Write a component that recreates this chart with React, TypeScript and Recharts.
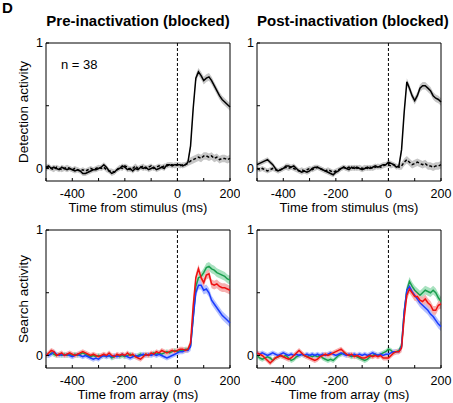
import React from 'react'
import { ComposedChart, Line, Area, XAxis, YAxis, ReferenceLine, ReferenceArea, Label } from 'recharts'

// time axis, ms (10 ms bins)
const timeMs = [
  -500, -490, -480, -470, -460, -450, -440, -430, -420, -410,
  -400, -390, -380, -370, -360, -350, -340, -330, -320, -310,
  -300, -290, -280, -270, -260, -250, -240, -230, -220, -210,
  -200, -190, -180, -170, -160, -150, -140, -130, -120, -110,
  -100, -90, -80, -70, -60, -50, -40, -30, -20, -10,
  0, 10, 20, 30, 40, 50, 60, 70, 80, 90,
  100, 110, 120, 130, 140, 150, 160, 170, 180, 190, 200,
]

const xTicks = [-500, -400, -300, -200, -100, 0, 100, 200]
const xTickLabels = [-400, -200, 0, 200]
const yTicks = [0, 0.5, 1]
const yTickLabels = [0, 1]

// detection activity, pre-inactivation
const detPreSolid = [
  0.01, 0.02, 0.0, 0.01, 0.0, -0.01, 0.01, 0.0, -0.01, 0.0,
  -0.01, -0.02, -0.01, -0.02, -0.04, -0.04, -0.03, -0.02, -0.01, -0.01,
  0.0, 0.01, 0.03, 0.01, -0.02, -0.04, -0.03, -0.01, 0.0, 0.02,
  0.01, -0.01, 0.0, -0.02, 0.0, -0.01, 0.01, 0.0, 0.01, -0.01,
  0.0, 0.01, -0.01, 0.0, 0.01, 0.0, 0.03, 0.03, 0.02, 0.03,
  0.03, 0.03, 0.02, 0.03, 0.05, 0.18, 0.48, 0.72, 0.77, 0.74,
  0.7, 0.72, 0.73, 0.7, 0.66, 0.62, 0.58, 0.55, 0.53, 0.51, 0.49,
]
const detPreDashed = [
  0.0, 0.01, 0.0, -0.01, 0.01, 0.0, -0.01, 0.0, 0.01, 0.0,
  -0.01, 0.0, -0.01, -0.02, -0.01, -0.02, -0.01, 0.0, -0.01, 0.0,
  0.01, 0.0, 0.01, -0.01, -0.02, -0.02, -0.03, -0.01, 0.01, 0.0,
  0.02, 0.01, -0.01, 0.0, 0.02, 0.0, 0.01, 0.02, 0.0, 0.01,
  0.02, 0.0, 0.01, 0.02, 0.01, 0.02, 0.02, 0.03, 0.03, 0.02,
  0.03, 0.02, 0.03, 0.03, 0.04, 0.06, 0.07, 0.08, 0.09, 0.08,
  0.1, 0.1, 0.09, 0.1, 0.08, 0.09, 0.07, 0.08, 0.08, 0.07, 0.08,
]

// detection activity, post-inactivation
const detPostSolid = [
  0.03, 0.04, 0.05, 0.06, 0.07, 0.05, 0.03, 0.0, -0.02, -0.01,
  0.0, 0.02, 0.02, 0.01, 0.02, 0.0, -0.02, -0.03, -0.02, -0.03,
  -0.02, 0.0, 0.01, 0.01, 0.0, -0.01, -0.02, -0.03, -0.04, -0.05,
  -0.03, -0.02, 0.0, 0.01, 0.0, -0.01, 0.01, 0.0, 0.01, 0.0,
  -0.01, 0.0, 0.01, 0.0, 0.01, 0.02, 0.01, 0.02, 0.03, 0.03,
  0.05, 0.04, 0.03, 0.01, 0.02, 0.15, 0.45, 0.69, 0.64, 0.58,
  0.54, 0.58, 0.64, 0.66, 0.66, 0.64, 0.62, 0.58, 0.56, 0.55, 0.53,
]
const detPostDashed = [
  0.0, -0.01, 0.0, -0.01, -0.02, -0.01, 0.0, -0.01, -0.02, -0.01,
  0.0, 0.01, 0.0, 0.01, 0.0, -0.01, -0.02, -0.01, -0.02, -0.01,
  0.0, -0.01, 0.0, 0.01, 0.0, -0.01, -0.02, -0.01, -0.02, -0.03,
  -0.02, -0.01, 0.0, 0.01, 0.0, 0.01, 0.0, 0.01, 0.0, 0.01,
  0.0, 0.01, 0.0, 0.01, 0.0, 0.01, 0.02, 0.01, 0.02, 0.03,
  0.03, 0.02, 0.03, 0.02, 0.01, 0.02, 0.05, 0.07, 0.05, 0.03,
  0.04, 0.05, 0.04, 0.03, 0.04, 0.02, 0.02, 0.01, 0.02, 0.02, 0.03,
]

// search activity, pre-inactivation
const searchPreGreen = [
  0.01, 0.0, 0.02, 0.01, 0.0, 0.01, 0.0, 0.01, 0.0, 0.01,
  0.0, 0.01, 0.0, 0.01, 0.02, 0.01, 0.0, -0.01, 0.0, -0.01,
  0.0, -0.01, 0.0, -0.01, 0.0, -0.02, -0.01, 0.0, -0.01, 0.0,
  -0.01, 0.0, 0.01, 0.0, -0.01, 0.0, 0.01, 0.0, 0.01, 0.0,
  0.01, 0.02, 0.01, 0.02, 0.01, 0.02, 0.03, 0.02, 0.03, 0.04,
  0.03, 0.04, 0.04, 0.05, 0.05, 0.08, 0.3, 0.55, 0.62, 0.63,
  0.66, 0.7, 0.71, 0.69, 0.68, 0.66, 0.65, 0.64, 0.63, 0.61, 0.6,
]
const searchPreRed = [
  0.0, 0.02, 0.04, 0.03, 0.0, 0.01, 0.02, 0.0, 0.01, 0.02,
  0.01, 0.0, 0.01, 0.02, 0.03, 0.02, 0.01, 0.0, 0.01, 0.0,
  -0.01, 0.0, 0.01, 0.0, 0.02, 0.0, -0.01, 0.01, 0.0, 0.01,
  0.0, 0.02, 0.0, 0.01, -0.01, -0.02, -0.03, -0.01, 0.01, 0.0,
  0.02, 0.01, 0.03, 0.02, 0.04, 0.03, 0.02, 0.03, 0.04, 0.03,
  0.04, 0.05, 0.05, 0.04, 0.05, 0.1, 0.4, 0.62, 0.69, 0.62,
  0.58, 0.64, 0.65, 0.57, 0.56, 0.57, 0.55, 0.54, 0.54, 0.53, 0.52,
]
const searchPreBlue = [
  0.01, 0.0, 0.01, 0.03, 0.01, 0.0, 0.01, 0.0, 0.01, 0.0,
  -0.01, 0.0, 0.01, 0.0, -0.01, 0.0, -0.01, -0.02, -0.03, -0.02,
  -0.03, -0.01, 0.0, -0.01, 0.0, -0.01, 0.0, -0.01, 0.0, 0.01,
  0.0, -0.01, -0.02, -0.01, 0.0, -0.01, 0.0, 0.01, 0.0, 0.01,
  0.0, 0.01, 0.0, 0.01, 0.0, -0.01, -0.02, -0.01, 0.0, 0.01,
  0.02, 0.03, 0.03, 0.04, 0.04, 0.07, 0.3, 0.5, 0.56, 0.56,
  0.52, 0.53, 0.5, 0.44, 0.41, 0.38, 0.35, 0.32, 0.3, 0.28, 0.26,
]

// search activity, post-inactivation
const searchPostGreen = [
  0.0, -0.02, -0.03, -0.02, -0.01, -0.02, -0.04, -0.02, -0.01, 0.0,
  -0.01, 0.0, -0.02, -0.04, -0.03, -0.01, 0.0, 0.01, 0.0, -0.01,
  0.0, -0.01, 0.0, -0.01, 0.0, -0.02, -0.03, -0.04, -0.03, -0.04,
  -0.02, 0.0, 0.01, 0.02, 0.01, 0.0, -0.01, 0.0, -0.01, -0.02,
  -0.03, -0.04, -0.03, -0.01, 0.0, 0.01, 0.0, 0.01, 0.02, 0.03,
  0.05, 0.04, 0.02, 0.03, 0.04, 0.08, 0.35, 0.52, 0.59, 0.55,
  0.52, 0.5, 0.48, 0.5, 0.52, 0.51, 0.5, 0.52, 0.5, 0.46, 0.43,
]
const searchPostRed = [
  0.02, 0.01, 0.0, -0.02, -0.04, -0.06, -0.04, -0.02, -0.01, 0.0,
  -0.01, -0.02, -0.03, -0.02, 0.0, 0.02, 0.04, 0.02, 0.0, -0.01,
  -0.02, -0.03, -0.04, -0.03, -0.01, 0.0, 0.01, 0.0, 0.01, 0.02,
  0.03, 0.04, 0.05, 0.03, 0.01, 0.0, 0.01, -0.01, 0.0, -0.01,
  -0.02, -0.02, -0.01, 0.0, -0.01, 0.0, -0.01, 0.0, -0.02, -0.02,
  -0.02, 0.0, 0.02, 0.03, 0.03, 0.06, 0.3, 0.48, 0.53, 0.5,
  0.47, 0.47, 0.44, 0.43, 0.45, 0.42, 0.4, 0.36, 0.36, 0.4, 0.41,
]
const searchPostBlue = [
  0.02, 0.01, 0.02, 0.01, 0.0, 0.01, 0.02, 0.01, 0.0, 0.01,
  0.02, 0.01, 0.0, 0.01, 0.0, 0.01, 0.0, 0.01, 0.0, 0.01,
  0.0, 0.01, 0.0, 0.01, 0.0, 0.01, 0.0, 0.01, 0.02, 0.01,
  0.0, 0.01, 0.02, 0.01, 0.0, 0.01, 0.0, 0.01, 0.0, 0.01,
  0.0, 0.01, 0.0, 0.01, 0.02, 0.01, 0.0, 0.01, 0.0, 0.01,
  0.01, 0.02, 0.03, 0.03, 0.03, 0.07, 0.35, 0.52, 0.55, 0.51,
  0.48, 0.45, 0.42, 0.4, 0.38, 0.36, 0.33, 0.31, 0.28, 0.25, 0.23,
]

// s.e.m. before / after response onset
const semBlack: [number, number] = [0.02, 0.03]
const semColor: [number, number] = [0.02, 0.035]

type SeriesDef = { key: string; values: number[]; color: string; band: string; dashed?: boolean; sem: [number, number] }

const BLACK = '#000'
const GREEN = '#1a9e4e'
const RED = '#ee1111'
const BLUE = '#1a3cff'

function buildRows(series: SeriesDef[]) {
  return timeMs.map((t, i) => {
    const row: Record<string, any> = { t }
    series.forEach((s) => {
      const v = s.values[i]
      const e = t < 50 ? s.sem[0] : s.sem[1]
      row[s.key] = v
      row[s.key + 'Band'] = [v - e, v + e]
    })
    return row
  })
}

const XTick = (props: any) => {
  const { x, y, payload } = props
  const axisY = y - 8
  return (
    <g>
      <line x1={x} x2={x} y1={axisY} y2={axisY - 3} stroke="#000" />
      {xTickLabels.includes(payload.value) && (
        <text x={x} y={y} dy="0.71em" textAnchor="middle" fontSize={12.5} fill="#000">
          {payload.value}
        </text>
      )}
    </g>
  )
}

const YTick = (props: any) => {
  const { x, y, payload } = props
  const axisX = x + 3
  return (
    <g>
      <line x1={axisX} x2={axisX + 3} y1={y} y2={y} stroke="#000" />
      {yTickLabels.includes(payload.value) && (
        <text x={x} y={y} dy="0.355em" textAnchor="end" fontSize={12.5} fill="#000">
          {payload.value}
        </text>
      )}
    </g>
  )
}

interface PanelProps {
  series: SeriesDef[]
  left: number
  top: number
  width: number
  height: number
  margin: { top: number; right: number; bottom: number; left: number }
  xLabel: string
  yLabel?: string
}

function Panel({ series, left, top, width, height, margin, xLabel, yLabel }: PanelProps) {
  const rows = buildRows(series)
  return (
    <div style={{ position: 'absolute', left, top }}>
      <ComposedChart width={width} height={height} data={rows} margin={margin}>
        <XAxis
          dataKey="t"
          type="number"
          domain={[-500, 200]}
          ticks={xTicks}
          interval={0}
          axisLine={false}
          tickLine={false}
          tickSize={6}
          tickMargin={2}
          height={30}
          tick={<XTick />}
        >
          <Label value={xLabel} position="bottom" offset={-8} style={{ fontSize: 13, fill: '#000' }} />
        </XAxis>
        <YAxis
          type="number"
          domain={[-0.1, 1]}
          ticks={yTicks}
          interval={0}
          axisLine={false}
          tickLine={false}
          tickSize={1}
          tickMargin={2}
          width={30}
          tick={<YTick />}
        >
          {yLabel && (
            <Label
              value={yLabel}
              angle={-90}
              position="insideLeft"
              offset={7}
              style={{ fontSize: 13.5, fill: '#000', textAnchor: 'middle' }}
            />
          )}
        </YAxis>
        {series.map((s) => (
          <Area
            key={s.key + 'Band'}
            dataKey={s.key + 'Band'}
            type="linear"
            stroke="none"
            fill={s.band}
            fillOpacity={1}
            isAnimationActive={false}
            activeDot={false}
          />
        ))}
        <ReferenceLine x={0} stroke="#000" strokeDasharray="3 2" strokeWidth={1} />
        {series.map((s) => (
          <Line
            key={s.key}
            dataKey={s.key}
            type="linear"
            stroke={s.color}
            strokeWidth={1.5}
            strokeDasharray={s.dashed ? '3 2' : undefined}
            dot={false}
            activeDot={false}
            isAnimationActive={false}
          />
        ))}
        <ReferenceArea x1={-500} x2={200} y1={-0.1} y2={1} fill="none" stroke="#000" strokeWidth={1} ifOverflow="visible" />
      </ComposedChart>
    </div>
  )
}

const preDetection: SeriesDef[] = [
  { key: 'dash', values: detPreDashed, color: BLACK, band: '#c6c6c6', dashed: true, sem: semBlack },
  { key: 'solid', values: detPreSolid, color: BLACK, band: '#c6c6c6', sem: semBlack },
]
const postDetection: SeriesDef[] = [
  { key: 'dash', values: detPostDashed, color: BLACK, band: '#c6c6c6', dashed: true, sem: semBlack },
  { key: 'solid', values: detPostSolid, color: BLACK, band: '#c6c6c6', sem: semBlack },
]
const preSearch: SeriesDef[] = [
  { key: 'green', values: searchPreGreen, color: GREEN, band: '#a9e2c0', sem: semColor },
  { key: 'blue', values: searchPreBlue, color: BLUE, band: '#b4c0ff', sem: semColor },
  { key: 'red', values: searchPreRed, color: RED, band: '#f7b0b0', sem: semColor },
]
const postSearch: SeriesDef[] = [
  { key: 'green', values: searchPostGreen, color: GREEN, band: '#a9e2c0', sem: semColor },
  { key: 'blue', values: searchPostBlue, color: BLUE, band: '#b4c0ff', sem: semColor },
  { key: 'red', values: searchPostRed, color: RED, band: '#f7b0b0', sem: semColor },
]

export default function App() {
  const titleStyle: React.CSSProperties = {
    position: 'absolute',
    top: 12,
    width: 184,
    textAlign: 'center',
    fontSize: 15,
    lineHeight: '18px',
    fontWeight: 'bold',
    whiteSpace: 'nowrap',
  }
  return (
    <div
      style={{
        position: 'absolute',
        left: 0,
        top: 0,
        width: 453,
        height: 403,
        background: '#fff',
        fontFamily: '"Liberation Sans", Arial, sans-serif',
        color: '#000',
        overflow: 'hidden',
      }}
    >
      <div style={{ position: 'absolute', left: 2, top: 0, fontSize: 15, fontWeight: 'bold', lineHeight: '15px' }}>D</div>
      <div style={{ ...titleStyle, left: 46 }}>Pre-inactivation (blocked)</div>
      <div style={{ ...titleStyle, left: 257 }}>Post-inactivation (blocked)</div>

      <Panel
        series={preDetection}
        left={0}
        top={0}
        width={240}
        height={215}
        margin={{ top: 43, right: 10, bottom: 4, left: 16 }}
        xLabel="Time from stimulus (ms)"
        yLabel="Detection activity"
      />
      <Panel
        series={postDetection}
        left={220}
        top={0}
        width={233}
        height={215}
        margin={{ top: 43, right: 12, bottom: 4, left: 7 }}
        xLabel="Time from stimulus (ms)"
      />
      <Panel
        series={preSearch}
        left={0}
        top={200}
        width={240}
        height={203}
        margin={{ top: 30, right: 10, bottom: 5, left: 16 }}
        xLabel="Time from array (ms)"
        yLabel="Search activity"
      />
      <Panel
        series={postSearch}
        left={220}
        top={200}
        width={233}
        height={203}
        margin={{ top: 30, right: 12, bottom: 5, left: 7 }}
        xLabel="Time from array (ms)"
      />

      <div style={{ position: 'absolute', left: 61, top: 57, fontSize: 13, lineHeight: '15px' }}>n = 38</div>
    </div>
  )
}
